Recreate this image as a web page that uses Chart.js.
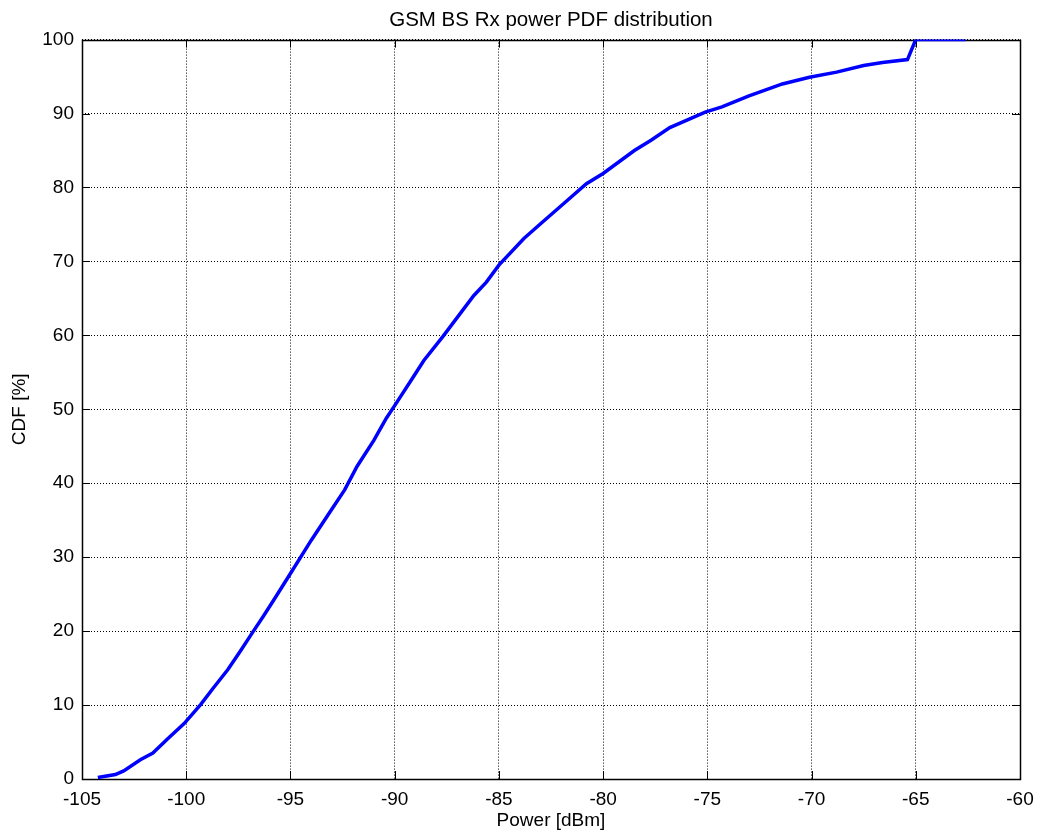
<!DOCTYPE html>
<html>
<head>
<meta charset="utf-8">
<script src="https://cdn.jsdelivr.net/npm/chart.js@4.4.1/dist/chart.umd.min.js"></script>
<style>
  html, body { margin: 0; padding: 0; background: #fff; }
  #wrap { width: 1037px; height: 834px; }
</style>
</head>
<body>
<div id="wrap"><canvas id="cdf-chart" width="1037" height="834"></canvas></div>
<script>
// values
var powerDbm = [
  -104.24, -103.4, -103.0, -102.2, -101.6, -100.9, -100.1, -99.3, -98.7, -98.0,
  -97.4, -96.8, -96.3, -95.8, -95.0, -94.0, -93.2, -92.4, -91.8, -91.0,
  -90.4, -90.0, -89.1, -88.6, -87.7, -86.2, -85.6, -85.0, -83.8, -83.0,
  -81.9, -80.8, -80.0, -78.5, -77.7, -76.8, -75.1, -74.3, -73.0, -71.4,
  -70.1, -68.8, -67.5, -66.6, -65.4, -65.0, -62.6
];
var cdfPct = [
  0.2, 0.6, 1.1, 2.6, 3.5, 5.4, 7.5, 10.1, 12.3, 14.8,
  17.3, 19.9, 22.0, 24.2, 27.8, 32.3, 35.7, 39.1, 42.3, 45.8,
  48.8, 50.5, 54.4, 56.6, 59.8, 65.4, 67.2, 69.5, 73.1, 75.1,
  77.8, 80.5, 81.9, 85.0, 86.4, 88.1, 90.2, 90.9, 92.4, 94.0,
  94.9, 95.6, 96.5, 96.9, 97.3, 100, 100
];
var xTicks = [-105, -100, -95, -90, -85, -80, -75, -70, -65, -60];
var yTicks = [0, 10, 20, 30, 40, 50, 60, 70, 80, 90, 100];

var chartTitle = "GSM BS Rx power PDF distribution";
var xLabel = "Power [dBm]";
var yLabel = "CDF [%]";

var FONT = "'Liberation Sans', Arial, Helvetica, sans-serif";

var points = powerDbm.map(function (x, i) {
  return { x: x, y: cdfPct[i] };
});

// matlab style box with inward tick marks
var boxPlugin = {
  id: "boxTicks",
  beforeDatasetsDraw: function (chart) {
    var ctx = chart.ctx;
    var a = chart.chartArea;
    var xs = chart.scales.x;
    var ys = chart.scales.y;
    var len = 8;
    ctx.save();
    ctx.strokeStyle = "#000";
    ctx.lineWidth = 1;
    ctx.setLineDash([]);
    ctx.beginPath();
    xTicks.forEach(function (v) {
      var px = Math.round(xs.getPixelForValue(v)) + 0.5;
      ctx.moveTo(px, a.bottom);
      ctx.lineTo(px, a.bottom - len);
      ctx.moveTo(px, a.top);
      ctx.lineTo(px, a.top + len);
    });
    yTicks.forEach(function (v) {
      var py = Math.round(ys.getPixelForValue(v)) + 0.5;
      ctx.moveTo(a.left, py);
      ctx.lineTo(a.left + len, py);
      ctx.moveTo(a.right, py);
      ctx.lineTo(a.right - len, py);
    });
    ctx.stroke();
    ctx.lineWidth = 1.5;
    ctx.strokeRect(Math.round(a.left) + 0.5, Math.round(a.top) + 0.5,
      Math.round(a.right - a.left), Math.round(a.bottom - a.top));
    ctx.restore();
  }
};

var ctx = document.getElementById("cdf-chart").getContext("2d");

new Chart(ctx, {
  type: "scatter",
  data: {
    datasets: [
      {
        label: "CDF",
        data: points,
        showLine: true,
        borderColor: "#0000ff",
        backgroundColor: "#0000ff",
        borderWidth: 3.5,
        pointRadius: 0,
        tension: 0,
      },
    ],
  },
  options: {
    responsive: false,
    animation: false,
    layout: { padding: { left: 0, right: 17, top: 0, bottom: 0 } },
    scales: {
      x: {
        type: "linear",
        min: -105,
        max: -60,
        afterBuildTicks: function (scale) {
          scale.ticks = xTicks.map(function (v) { return { value: v }; });
        },
        afterFit: function (scale) {
          scale.height = 55;
          scale.paddingLeft = 0;
          scale.paddingRight = 0;
        },
        border: { display: false, dash: [1, 2] },
        grid: {
          color: "#000",
          lineWidth: 1,
          drawTicks: false,
        },
        ticks: {
          color: "#000",
          padding: 9,
          maxRotation: 0,
          font: { family: FONT, size: 19 },
        },
        title: {
          display: true,
          text: xLabel,
          color: "#000",
          padding: { top: 0, bottom: 2 },
          font: { family: FONT, size: 19 },
        },
      },
      y: {
        type: "linear",
        min: 0,
        max: 100,
        afterBuildTicks: function (scale) {
          scale.ticks = yTicks.map(function (v) { return { value: v }; });
        },
        afterFit: function (scale) { scale.width = 82; },
        border: { display: false, dash: [1, 2] },
        grid: {
          color: "#000",
          lineWidth: 1,
          drawTicks: false,
        },
        ticks: {
          color: "#000",
          padding: 8,
          font: { family: FONT, size: 19 },
        },
        title: {
          display: true,
          text: yLabel,
          color: "#000",
          padding: { top: 8, bottom: 0 },
          font: { family: FONT, size: 19 },
        },
      },
    },
    plugins: {
      legend: { display: false },
      tooltip: { enabled: false },
      title: {
        display: true,
        fullSize: false,
        text: chartTitle,
        color: "#000",
        padding: { top: 8, bottom: 7 },
        font: { family: FONT, size: 20.5, weight: "normal" },
      },
    },
  },
  plugins: [boxPlugin],
});
</script>
</body>
</html>
